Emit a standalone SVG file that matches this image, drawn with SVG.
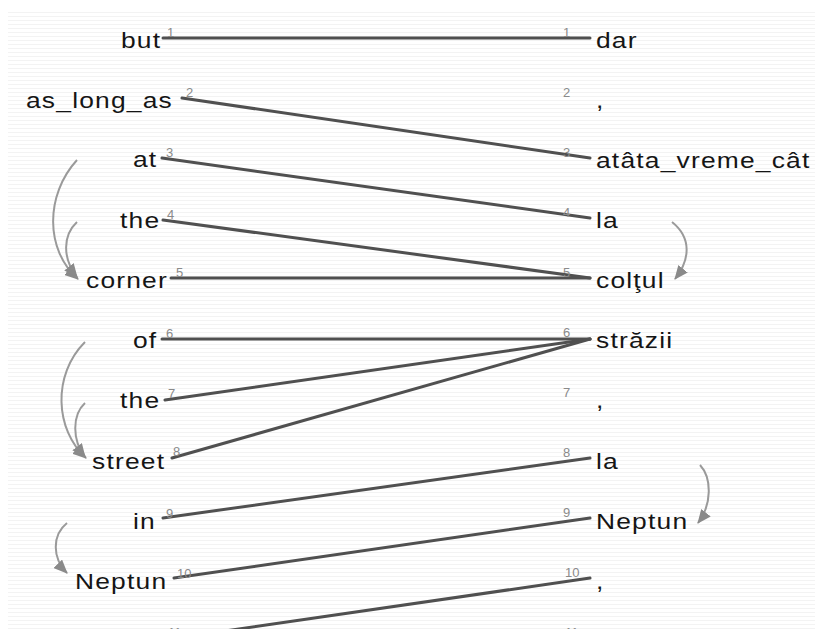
<svg xmlns="http://www.w3.org/2000/svg" width="815" height="629" viewBox="0 0 815 629">
  <style>
    .w { font-family: "Liberation Sans", Arial, sans-serif; font-size: 22px; letter-spacing: 1px; fill: #151515; }
    .n { font-family: "Liberation Sans", Arial, sans-serif; font-size: 13px; fill: #8a8a8a; }
    .link { stroke: #505050; stroke-width: 3; fill: none; stroke-linecap: round; }
    .arc { stroke: #9a9a9a; stroke-width: 2; fill: none; marker-end: url(#ah); }
  </style>
  <defs>
    <pattern id="stripes" width="4" height="4" patternUnits="userSpaceOnUse">
      <rect x="0" y="0" width="4" height="1" fill="#f3f3f3"/>
    </pattern>
    <marker id="ah" markerUnits="userSpaceOnUse" markerWidth="16" markerHeight="12" refX="13" refY="6" orient="auto">
      <path d="M0,0 L14,6 L0,12 z" fill="#8a8a8a"/>
    </marker>
  </defs>
  <rect width="815" height="629" fill="#ffffff"/>
  <rect x="8" y="10" width="807" height="619" fill="url(#stripes)"/>

  <g id="connectors">
    <line class="link" x1="163" y1="38" x2="590" y2="38"/>
    <line class="link" x1="182" y1="98" x2="590" y2="158"/>
    <line class="link" x1="162" y1="158" x2="590" y2="218"/>
    <line class="link" x1="163" y1="220" x2="590" y2="278"/>
    <line class="link" x1="171" y1="278" x2="590" y2="278"/>
    <line class="link" x1="162" y1="339" x2="590" y2="339"/>
    <line class="link" x1="165" y1="400" x2="590" y2="339"/>
    <line class="link" x1="172" y1="458" x2="590" y2="339"/>
    <line class="link" x1="163" y1="518" x2="590" y2="458"/>
    <line class="link" x1="174" y1="578" x2="590" y2="518"/>
    <line class="link" x1="163" y1="640" x2="590" y2="578"/>
    <path class="arc" d="M77,160 C45,195 45,250 78,279"/>
    <path class="arc" d="M77,222 C63,235 62,258 77,277"/>
    <path class="arc" d="M85,342 C52,375 55,430 86,458"/>
    <path class="arc" d="M85,403 C72,415 72,440 85,457"/>
    <path class="arc" d="M67,523 C52,535 52,558 67,573"/>
    <path class="arc" d="M672,222 C692,238 690,260 675,279"/>
    <path class="arc" d="M700,465 C712,478 712,505 698,523"/>
  </g>

  <g id="src1"><text class="w" transform="translate(121,48) scale(1.2,1)">but</text><text class="n" x="167" y="37">1</text></g>
  <g id="src2"><text class="w" transform="translate(26,108) scale(1.2,1)">as_long_as</text><text class="n" x="186" y="97">2</text></g>
  <g id="src3"><text class="w" transform="translate(133,167) scale(1.2,1)">at</text><text class="n" x="166" y="157">3</text></g>
  <g id="src4"><text class="w" transform="translate(120,228) scale(1.2,1)">the</text><text class="n" x="167" y="219">4</text></g>
  <g id="src5"><text class="w" transform="translate(86,288) scale(1.2,1)">corner</text><text class="n" x="176" y="277">5</text></g>
  <g id="src6"><text class="w" transform="translate(133,348) scale(1.2,1)">of</text><text class="n" x="166" y="338">6</text></g>
  <g id="src7"><text class="w" transform="translate(120,408) scale(1.2,1)">the</text><text class="n" x="168" y="398">7</text></g>
  <g id="src8"><text class="w" transform="translate(92,469) scale(1.2,1)">street</text><text class="n" x="173" y="456">8</text></g>
  <g id="src9"><text class="w" transform="translate(133,529) scale(1.2,1)">in</text><text class="n" x="166" y="518">9</text></g>
  <g id="src10"><text class="w" transform="translate(75,589) scale(1.2,1)">Neptun</text><text class="n" x="177" y="578">10</text></g>
  <g id="src11"><text class="n" x="168" y="637">11</text></g>

  <g id="tgt1"><text class="n" x="563" y="37">1</text><text class="w" transform="translate(596,48) scale(1.2,1)">dar</text></g>
  <g id="tgt2"><text class="n" x="563" y="97">2</text><text class="w" transform="translate(596,108) scale(1.2,1)">,</text></g>
  <g id="tgt3"><text class="n" x="563" y="157">3</text><text class="w" transform="translate(596,168) scale(1.2,1)">atâta_vreme_cât</text></g>
  <g id="tgt4"><text class="n" x="563" y="217">4</text><text class="w" transform="translate(596,228) scale(1.2,1)">la</text></g>
  <g id="tgt5"><text class="n" x="563" y="277">5</text><text class="w" transform="translate(596,288) scale(1.2,1)">colţul</text></g>
  <g id="tgt6"><text class="n" x="563" y="337">6</text><text class="w" transform="translate(596,348) scale(1.2,1)">străzii</text></g>
  <g id="tgt7"><text class="n" x="563" y="397">7</text><text class="w" transform="translate(596,408) scale(1.2,1)">,</text></g>
  <g id="tgt8"><text class="n" x="563" y="457">8</text><text class="w" transform="translate(596,469) scale(1.2,1)">la</text></g>
  <g id="tgt9"><text class="n" x="563" y="517">9</text><text class="w" transform="translate(596,529) scale(1.2,1)">Neptun</text></g>
  <g id="tgt10"><text class="n" x="565" y="577">10</text><text class="w" transform="translate(596,589) scale(1.2,1)">,</text></g>
  <g id="tgt11"><text class="n" x="565" y="637">11</text></g>
</svg>
